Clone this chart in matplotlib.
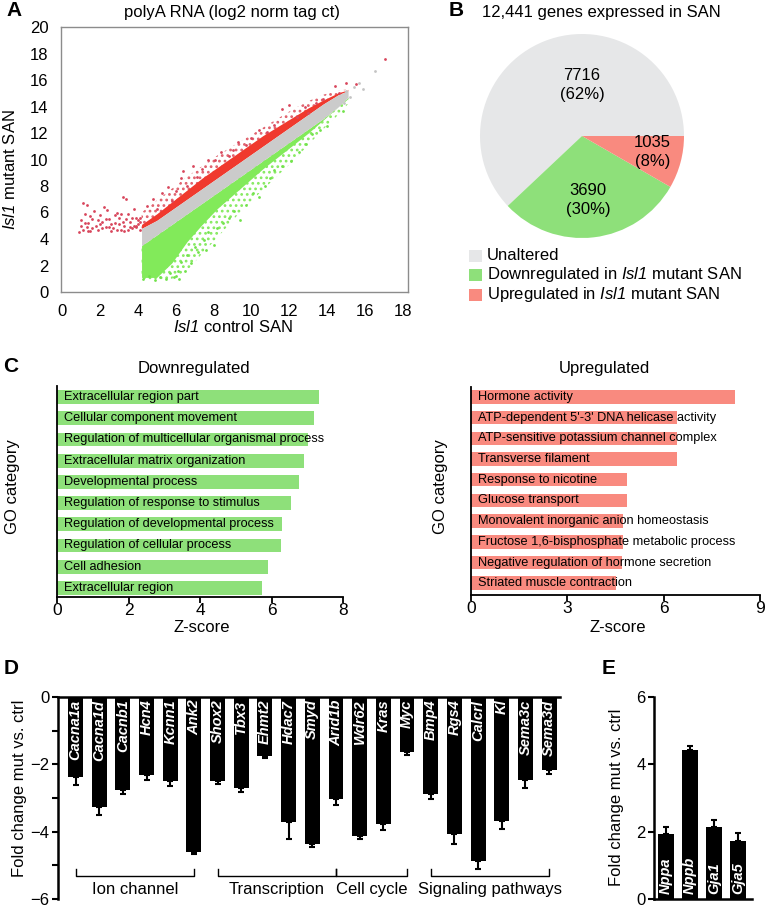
import matplotlib
matplotlib.use('Agg')
import matplotlib.pyplot as plt
from matplotlib.patches import Rectangle

plt.rcParams['font.family'] = ['Liberation Sans', 'DejaVu Sans']
# mathtext is only used for the italic gene name "Isl1" (digit included)
plt.rcParams['mathtext.fontset'] = 'custom'
plt.rcParams['mathtext.rm'] = 'Liberation Sans:italic'
plt.rcParams['mathtext.it'] = 'Liberation Sans:italic'
plt.rcParams['hatch.linewidth'] = 1.2

# ---------------- data ----------------
# A: scatter, dense parts as envelopes
env_x = [4.2, 5.0, 5.8, 6.6, 7.4, 8.2, 9.0, 9.8, 10.6, 11.4, 12.2, 13.0, 13.8, 14.6, 15.1]
band_lo = [3.5, 4.3, 5.1, 5.9, 6.7, 7.5, 8.3, 9.1, 9.9, 10.7, 11.5, 12.3, 13.1, 14.0, 14.7]
band_hi = [4.8, 5.4, 6.2, 7.0, 7.8, 8.6, 9.4, 10.2, 11.0, 11.8, 12.6, 13.4, 14.2, 14.9, 15.2]
red_core = [5.1, 5.9, 6.8, 7.7, 8.6, 9.4, 10.2, 11.0, 11.8, 12.5, 13.2, 13.9, 14.5, 15.05, 15.25]
red_outer = [6.0, 6.9, 7.8, 8.7, 9.5, 10.3, 11.0, 11.7, 12.4, 13.1, 13.8, 14.4, 14.9, 15.2, 15.3]
green_core = [1.1, 1.1, 2.2, 3.8, 5.1, 6.3, 7.3, 8.3, 9.3, 10.2, 11.1, 12.0, 13.0, 14.0, 14.6]
green_outer = [0.9, 0.9, 1.0, 1.6, 2.9, 4.1, 5.4, 6.6, 7.7, 8.8, 9.9, 11.1, 12.3, 13.4, 14.2]

red_x = [0.9, 1.0, 1.1, 1.0, 1.2, 1.1, 1.3, 1.4, 1.5, 1.6, 1.8, 1.9, 2.0, 2.1, 2.3, 2.4,
         2.5, 2.7, 2.8, 2.9, 3.0, 3.1, 3.2, 3.4, 3.3, 3.5, 3.6, 3.7, 3.8, 3.9, 4.0, 4.1,
         2.2, 1.7, 1.3, 2.6, 3.0, 3.4, 3.7, 3.9, 2.0, 1.5, 2.9, 3.6, 4.0, 1.2, 1.6, 1.9,
         2.3, 2.6, 2.8, 3.2, 3.5, 3.8, 4.1, 2.5, 3.1, 3.3, 3.9, 4.1, 1.4, 2.1,
         4.5, 4.8, 5.0, 5.3, 5.6, 5.8, 6.0, 6.3, 6.4, 6.6, 6.9, 7.1, 7.4, 7.7, 8.1, 8.4,
         8.8, 9.0, 9.3, 9.7, 10.0, 10.4, 10.8, 11.2, 11.6, 12.0, 12.4, 12.8, 13.0, 13.4,
         13.8, 14.4, 14.6, 15.0, 15.5, 17.05]
red_y = [4.5, 5.0, 4.7, 5.4, 5.9, 6.7, 6.6, 5.2, 4.6, 5.5, 5.0, 4.7, 5.8, 5.3, 4.9, 6.2,
         5.5, 4.8, 5.2, 6.0, 5.6, 4.7, 7.2, 7.0, 5.0, 5.9, 5.3, 4.8, 6.3, 5.6, 5.1, 4.7,
         6.4, 6.1, 4.9, 4.6, 5.1, 5.5, 5.6, 5.0, 5.1, 5.7, 4.7, 4.9, 5.4, 5.2, 4.8, 5.4,
         5.5, 5.1, 5.8, 5.3, 4.7, 5.0, 5.3, 4.9, 5.9, 4.6, 4.9, 5.6, 4.6, 4.8,
         6.5, 7.0, 6.3, 7.5, 7.9, 6.9, 7.6, 8.6, 9.1, 8.0, 9.5, 8.7, 9.3, 10.0, 10.0, 10.6,
         10.3, 10.75, 11.3, 11.1, 11.6, 12.2, 12.1, 12.6, 13.8, 14.1, 13.2, 14.0, 13.5, 14.3,
         14.6, 15.55, 15.0, 15.8, 15.7, 17.6]

green_x = [4.3, 4.6, 4.9, 5.2, 5.5, 5.7, 6.0, 6.2, 6.5, 6.3, 6.6, 6.8, 7.0, 7.2, 7.5, 7.7,
           8.0, 8.2, 8.5, 8.8, 9.1, 9.4, 9.7, 10.1, 10.4, 10.7, 11.0, 11.2, 11.6, 12.1,
           12.5, 12.9, 13.2, 13.6, 14.0, 14.85, 5.9, 6.1, 7.6]
green_y = [1.0, 1.2, 0.9, 1.1, 1.0, 1.4, 1.2, 1.0, 1.6, 2.3, 2.8, 2.2, 3.4, 3.0, 3.9, 4.5,
           3.56, 4.8, 5.2, 5.6, 6.1, 5.45, 6.6, 7.5, 7.2, 8.0, 8.6, 9.2, 9.5, 9.9,
           10.6, 11.2, 11.9, 12.2, 12.5, 13.65, 1.1, 1.6, 3.2]

gray_x = [15.0, 15.4, 15.7, 15.9, 16.5, 14.9, 15.2]
gray_y = [15.2, 15.5, 15.8, 15.35, 16.7, 14.3, 14.7]

# B: pie
pie_labels = ['Unaltered', 'Downregulated in $Isl1$ mutant SAN',
              'Upregulated in $Isl1$ mutant SAN']
pie_counts = [7716, 3690, 1035]
pie_pct = [62, 30, 8]

# C: GO categories
down_terms = ['Extracellular region part', 'Cellular component movement',
              'Regulation of multicellular organismal process',
              'Extracellular matrix organization', 'Developmental process',
              'Regulation of response to stimulus', 'Regulation of developmental process',
              'Regulation of cellular process', 'Cell adhesion', 'Extracellular region']
down_z = [7.33, 7.19, 7.02, 6.91, 6.78, 6.54, 6.29, 6.27, 5.91, 5.74]
up_terms = ['Hormone activity', "ATP-dependent 5'-3' DNA helicase activity",
            'ATP-sensitive potassium channel complex', 'Transverse filament',
            'Response to nicotine', 'Glucose transport',
            'Monovalent inorganic anion homeostasis',
            'Fructose 1,6-bisphosphate metabolic process',
            'Negative regulation of hormone secretion', 'Striated muscle contraction']
up_z = [8.22, 6.42, 6.42, 6.42, 4.86, 4.86, 4.74, 4.74, 4.69, 4.50]

# D: qPCR down
genes_d = ['Cacna1a', 'Cacna1d', 'Cacnb1', 'Hcn4', 'Kcnn1', 'Ank2', 'Shox2', 'Tbx3',
           'Ehmt2', 'Hdac7', 'Smyd', 'Arid1b', 'Wdr62', 'Kras', 'Myc', 'Bmp4', 'Rgs4',
           'Calcrl', 'Kl', 'Sema3c', 'Sema3d']
fold_d = [-2.39, -3.26, -2.77, -2.31, -2.50, -4.59, -2.50, -2.69, -1.74, -3.71, -4.38,
          -3.03, -4.13, -3.76, -1.62, -2.87, -4.08, -4.88, -3.67, -2.48, -2.16]
err_d = [0.23, 0.24, 0.10, 0.17, 0.15, 0.08, 0.07, 0.13, 0.07, 0.50, 0.07,
         0.17, 0.08, 0.20, 0.10, 0.17, 0.30, 0.22, 0.25, 0.21, 0.14]
group_names = ['Ion channel', 'Transcription', 'Cell cycle', 'Signaling pathways']
group_start = [0, 6, 11, 15]
group_end = [5, 11, 14, 20]

# E: qPCR up
genes_e = ['Nppa', 'Nppb', 'Gja1', 'Gja5']
fold_e = [1.93, 4.44, 2.15, 1.71]
err_e = [0.22, 0.10, 0.20, 0.25]

# ---------------- layout helpers (pixel based) ----------------
W, H = 769, 908
fig = plt.figure(figsize=(W / 100, H / 100), dpi=100)


def box(l, t, r, b):
    return [l / W, 1 - b / H, (r - l) / W, (b - t) / H]


def ftext(x, y, s, **kw):
    kw.setdefault('ha', 'center')
    kw.setdefault('va', 'center')
    fig.text(x / W, 1 - y / H, s, **kw)


GRAY = '#e6e7e8'
GREEN = '#8ee07a'
RED = '#f98a7f'
FS = 12

# panel letters
for lx, ly, s in [(14, 11, 'A'), (456, 11, 'B'), (11, 367, 'C'), (11, 668, 'D'), (609, 669, 'E')]:
    ftext(lx, ly, s, fontsize=15, weight='bold')

# ---------------- A ----------------
axA = fig.add_axes(box(61, 27, 408, 292))
axA.fill_between(env_x, green_outer, band_lo, facecolor='white', edgecolor='#86ea60',
                 hatch='...', lw=0)
axA.fill_between(env_x, green_core, band_lo, color='#82ea5a', lw=0)
axA.fill_between(env_x, band_hi, red_outer, facecolor='white', edgecolor='#e0606c',
                 hatch='...', lw=0)
axA.fill_between(env_x, band_hi, red_core, color='#f0392e', lw=0)
axA.fill_between(env_x, band_lo, band_hi, color='#cbcbcb', lw=0)
axA.scatter(red_x, red_y, s=4, color='#d8465c', lw=0)
axA.scatter(green_x, green_y, s=4, color='#72e24c', lw=0)
axA.scatter(gray_x, gray_y, s=4, color='#c4c4c4', lw=0)
axA.set_xlim(-0.05, 18.26)
axA.set_ylim(0, 20)
axA.set_xticks(range(0, 19, 2))
axA.set_yticks(range(0, 21, 2))
axA.tick_params(length=0, labelsize=FS, pad=9)
for sp in axA.spines.values():
    sp.set_color('#8c8c8c')
    sp.set_linewidth(1.0)
ftext(232, 12, 'polyA RNA (log2 norm tag ct)', fontsize=FS)
ftext(233, 327, '$Isl1$ control SAN', fontsize=FS)
ftext(10, 170, '$Isl1$ mutant SAN', fontsize=FS, rotation=90)

# ---------------- B ----------------
axB = fig.add_axes(box(480, 34, 684, 238))
wedges, _ = axB.pie(pie_counts, colors=[GRAY, GREEN, RED], startangle=0,
                    counterclock=True, radius=1, wedgeprops=dict(linewidth=0))
axB.set_xlim(-1, 1)
axB.set_ylim(-1, 1)
pie_txt_pos = [(0.0, 0.5), (0.06, -0.63), (0.69, -0.16)]
for (tx, ty), c, p in zip(pie_txt_pos, pie_counts, pie_pct):
    axB.text(tx, ty, f'{c}\n({p}%)', ha='center', va='center', fontsize=FS, linespacing=1.35)
ftext(482, 12, '12,441 genes expressed in SAN', fontsize=FS, ha='left')
for yy, col, lab in zip([256, 275, 294.5], [GRAY, GREEN, RED], pie_labels):
    fig.add_artist(Rectangle((469 / W, 1 - (yy + 6) / H), 13 / W, 12 / H,
                             transform=fig.transFigure, color=col, lw=0))
    ftext(487, yy, lab, fontsize=FS, ha='left')


# ---------------- C ----------------
def go_panel(rect, terms, zs, color, xmax, xticks, ylim, title, tx, ylx):
    ax = fig.add_axes(box(*rect))
    pos = list(range(len(terms)))
    ax.barh(pos, zs, height=0.65, color=color, lw=0)
    for p, t in zip(pos, terms):
        ax.text(xmax * 0.025, p, t, ha='left', va='center', fontsize=9.2)
    ax.set_xlim(0, xmax)
    ax.set_ylim(*ylim)
    ax.set_xticks(xticks)
    ax.set_yticks([])
    for s in ['top', 'right']:
        ax.spines[s].set_visible(False)
    for s in ['left', 'bottom']:
        ax.spines[s].set_linewidth(1.3)
    ax.tick_params(axis='x', length=4, width=1.3, labelsize=FS + 0.5, pad=0)
    ftext(tx, 368, title, fontsize=FS)
    ftext(rect[0] + (rect[2] - rect[0]) / 2 + 2, 627, 'Z-score', fontsize=FS)
    ftext(ylx, 487, 'GO category', fontsize=FS, rotation=90)


go_panel((57, 386, 343, 597), down_terms, down_z, GREEN, 8, [0, 2, 4, 6, 8],
         (9.43, -0.52), 'Downregulated', 194, 13)
go_panel((471, 387, 760, 595), up_terms, up_z, RED, 9, [0, 3, 6, 9],
         (9.57, -0.48), 'Upregulated', 604, 440)

# ---------------- D ----------------
axD = fig.add_axes(box(58, 697, 560, 899))
xd = list(range(len(genes_d)))
axD.bar(xd, fold_d, width=0.63, color='black', lw=0)
axD.errorbar(xd, fold_d, yerr=[err_d, [0] * len(err_d)], fmt='none', ecolor='black',
             elinewidth=1.5, capsize=2.5, capthick=1.5)
for x, g in zip(xd, genes_d):
    axD.text(x, -0.08, g, rotation=90, ha='center', va='top', color='white',
             fontsize=10.5, weight='bold', style='italic')
for name, s, e in zip(group_names, group_start, group_end):
    axD.plot([s, s, e, e], [-5.12, -5.32, -5.32, -5.12], color='black', lw=1.0)
    axD.text((s + e) / 2, -5.73, name, ha='center', va='center', fontsize=FS)
axD.set_xlim(-0.74, 20.46)
axD.set_ylim(-6, 0)
axD.set_yticks([0, -2, -4, -6])
axD.set_yticks([-1, -3, -5], minor=True)
axD.set_xticks([])
for s in ['bottom', 'right']:
    axD.spines[s].set_visible(False)
for s in ['top', 'left']:
    axD.spines[s].set_linewidth(1.8)
axD.tick_params(axis='y', which='both', length=4, width=1.5, labelsize=FS, pad=2)
ftext(20, 788, 'Fold change mut vs. ctrl', fontsize=FS, rotation=90)

# ---------------- E ----------------
axE = fig.add_axes(box(654, 697, 752, 899))
xe = list(range(len(genes_e)))
axE.bar(xe, fold_e, width=0.67, color='black', lw=0)
axE.errorbar(xe, fold_e, yerr=[[0] * len(err_e), err_e], fmt='none', ecolor='black',
             elinewidth=1.5, capsize=2.5, capthick=1.5)
for x, g in zip(xe, genes_e):
    axE.text(x, 0.15, g, rotation=90, ha='center', va='bottom', color='white',
             fontsize=10.5, weight='bold', style='italic')
axE.set_xlim(-0.51, 3.59)
axE.set_ylim(0, 6)
axE.set_yticks([0, 2, 4, 6])
axE.set_xticks([])
for s in ['top', 'right']:
    axE.spines[s].set_visible(False)
for s in ['bottom', 'left']:
    axE.spines[s].set_linewidth(1.8)
axE.tick_params(axis='y', length=4, width=1.5, labelsize=FS, pad=2)
ftext(617, 797, 'Fold change mut vs. ctrl', fontsize=FS, rotation=90)

fig.savefig('out.png', dpi=100)
